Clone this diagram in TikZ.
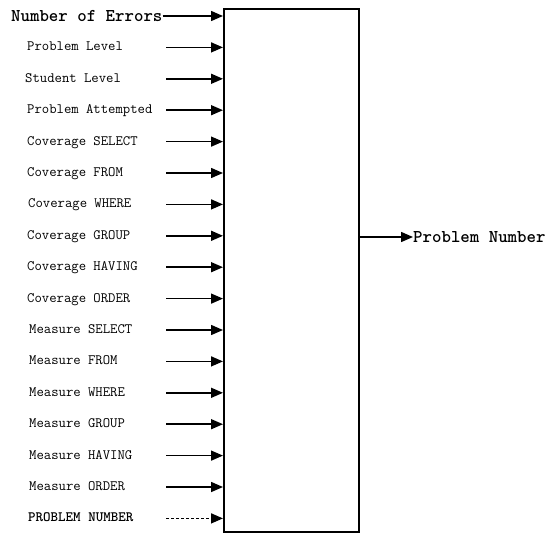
\documentclass[tikz,border=0pt]{standalone}
\usepackage{fontspec}
\usetikzlibrary{arrows.meta}

\begin{document}
\begin{tikzpicture}[x=1pt, y=-1pt,
    inarrow/.style={-{Triangle[length=12pt, width=10pt]}, line width=1.5pt},
    lbl/.style={anchor=base west, inner sep=0pt, font=\ttfamily\fontsize{14.3}{16}\selectfont},
    biglbl/.style={anchor=west, inner sep=0pt, font=\ttfamily\fontsize{18}{20}\selectfont\bfseries}]
    \useasboundingbox (0,0) rectangle (546,533);
    % the block
    \node[draw, line width=1.6pt, anchor=north west, inner sep=0pt,
          minimum width=135pt, minimum height=523pt] (box) at (223,8) {};
    % first input
    \node[biglbl] (errors) at (11,16) {Number of Errors};
    \draw[inarrow] (errors.east) -- (errors.east -| box.west);
    % the other inputs
    \foreach \lx/\txt [count=\i] in {27/Problem Level, 25/Student Level, 27/Problem Attempted,
        27/Coverage SELECT, 27/Coverage FROM, 28/Coverage WHERE, 27/Coverage GROUP,
        27/Coverage HAVING, 27/Coverage ORDER, 29/Measure SELECT, 29/Measure FROM,
        29/Measure WHERE, 29/Measure GROUP, 29/Measure HAVING, 29/Measure ORDER} {
        \node[lbl] (in\i) at (\lx,{16+31.4*\i+3.5}) {\txt};
        \coordinate (src\i) at (166,{16+31.4*\i});
        \draw[inarrow] (src\i) -- (src\i -| box.west);
    }
    % feedback input (dashed)
    \node[lbl, font=\ttfamily\fontsize{14.3}{16}\selectfont\bfseries] (pnin) at (28,{16+31.4*16+3.5}) {PROBLEM NUMBER};
    \coordinate (src16) at (166,{16+31.4*16});
    \draw[inarrow, dash pattern=on 3pt off 2pt] (src16) -- (src16 -| box.west);
    % output
    \node[biglbl] (pnout) at (413,237) {Problem Number};
    \draw[inarrow] (pnout.west -| box.east) -- (pnout.west);
\end{tikzpicture}
\end{document}
